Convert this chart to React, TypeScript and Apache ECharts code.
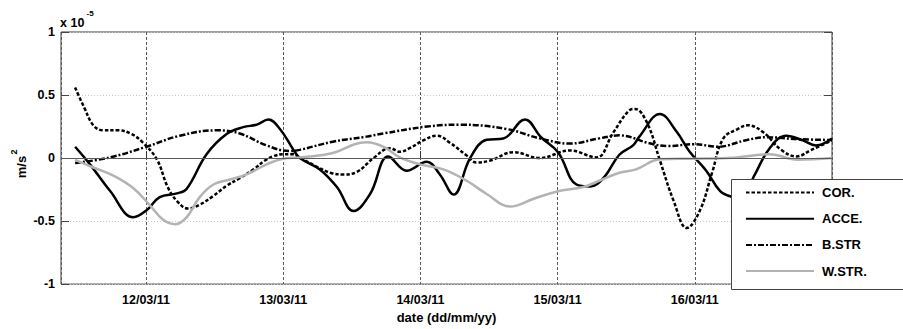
import React, { useEffect, useRef } from "react";
import * as echarts from "echarts";

// time origin: 12/03/2011 00:00 (UTC); points are [hours from origin, value in 1e-5 m/s^2]
const ORIGIN = Date.UTC(2011, 2, 12);
const X_MIN = Date.UTC(2011, 2, 11, 9, 8);
const X_MAX = Date.UTC(2011, 2, 17, 0, 0);
const DAY = 86400000;

const SERIES_NAMES = ["COR.", "ACCE.", "B.STR", "W.STR."];

const COR: [number, number][] = [
  [-12.4, 0.56], [-10.8, 0.4], [-9.2, 0.26], [-7.5, 0.22], [-4.9, 0.22], [-2.5, 0.19],
  [-0.5, 0.12], [1.9, -0.01], [3.8, -0.23], [5.4, -0.34], [7.3, -0.4], [9.4, -0.37],
  [11.8, -0.3], [14.1, -0.22], [16.4, -0.16], [18.8, -0.09], [20.8, -0.02], [22.3, 0.015],
  [24.0, 0.03], [25.7, 0.03], [26.9, 0.005], [29.9, -0.07], [32.5, -0.12], [34.5, -0.13],
  [36.9, -0.11], [39.8, 0.0], [42.7, 0.078], [44.4, 0.05], [46.2, 0.08], [48.5, 0.14],
  [50.9, 0.177], [53.2, 0.12], [56.1, 0.02], [57.8, -0.035], [60.2, -0.02], [64.3, 0.047],
  [68.9, 0.0], [74.1, 0.06], [78.8, 0.005], [81.7, 0.2], [84.6, 0.38], [85.5, 0.39],
  [87.6, 0.285], [89.9, -0.02], [92.3, -0.34], [94.6, -0.555], [96.9, -0.415], [99.0, -0.12],
  [101.0, 0.156], [103.5, 0.23], [105.3, 0.26], [108.1, 0.2], [111.1, 0.065], [113.8, 0.013],
  [116.4, 0.065], [120.0, 0.14],
];

const ACCE: [number, number][] = [
  [-12.4, 0.09], [-9.8, -0.05], [-6.3, -0.26], [-2.2, -0.47], [0.1, -0.415], [2.4, -0.31],
  [5.4, -0.28], [7.1, -0.245], [10.6, 0.03], [14.1, 0.19], [17.0, 0.245], [19.4, 0.265],
  [21.4, 0.305], [23.4, 0.233], [25.8, 0.065], [26.9, 0.0], [30.4, -0.09], [33.4, -0.23],
  [36.3, -0.42], [39.2, -0.285], [42.4, 0.013], [45.6, -0.1], [49.1, -0.03], [51.4, -0.13],
  [53.8, -0.29], [56.7, 0.0], [59.6, 0.145], [62.5, 0.155], [66.3, 0.306], [69.1, 0.165],
  [72.1, 0.045], [75.3, -0.21], [77.7, -0.225], [80.0, -0.16], [82.8, 0.026], [85.2, 0.1],
  [86.3, 0.17], [89.9, 0.35], [92.8, 0.21], [95.1, 0.05], [98.0, -0.1], [100.4, -0.26],
  [102.6, -0.31], [104.2, -0.32], [106.4, -0.14], [109.1, 0.078], [112.0, 0.177],
  [114.9, 0.14], [117.2, 0.1], [120.0, 0.155],
];

const BSTR: [number, number][] = [
  [-12.4, -0.04], [-6.3, 0.005], [0.1, 0.09], [5.9, 0.177], [12.4, 0.22], [16.4, 0.195],
  [21.1, 0.1], [25.2, 0.055], [26.9, 0.065], [32.7, 0.13], [38.6, 0.17], [41.5, 0.195],
  [49.2, 0.25], [55.0, 0.265], [63.1, 0.23], [68.9, 0.156], [74.1, 0.115], [79.3, 0.156],
  [82.8, 0.18], [88.1, 0.117], [91.2, 0.095], [95.9, 0.11], [100.0, 0.09], [105.1, 0.143],
  [108.6, 0.165], [114.0, 0.15], [120.0, 0.143],
];

const WSTR: [number, number][] = [
  [-12.4, -0.015], [-9.2, -0.075], [-5.7, -0.14], [-2.2, -0.24], [0.7, -0.375], [3.0, -0.49],
  [5.1, -0.525], [7.1, -0.47], [9.4, -0.31], [11.8, -0.21], [14.7, -0.17], [17.6, -0.13],
  [21.1, -0.05], [24.0, -0.005], [26.9, 0.005], [32.7, 0.04], [36.5, 0.11], [38.6, 0.125],
  [41.5, 0.09], [44.4, 0.005], [47.9, -0.05], [52.0, -0.09], [56.1, -0.18], [59.6, -0.285],
  [63.7, -0.385], [67.7, -0.325], [71.9, -0.265], [76.5, -0.23], [79.3, -0.18], [82.8, -0.117],
  [85.7, -0.09], [89.9, -0.01], [95.7, -0.005], [102.7, 0.003], [109.1, 0.03], [114.0, -0.013],
  [120.0, 0.0],
];

const FONT = "'Liberation Sans', Arial, Helvetica, sans-serif";

const toPoints = (d: [number, number][]) => d.map(([h, v]) => [ORIGIN + h * 3600000, v]);
const pad = (n: number) => (n < 10 ? "0" + n : String(n));

export default function App() {
  const ref = useRef<HTMLDivElement>(null);
  useEffect(() => {
    if (!ref.current) return;
    const chart = echarts.init(ref.current, undefined, { renderer: "svg" });
    const lineBase = { type: "line", showSymbol: false, symbol: "none", smooth: 0.4, z: 2 };
    const option: any = {
      animation: false,
      useUTC: true,
      textStyle: { fontFamily: FONT },
      grid: {
        left: 61, right: 71, top: 32, bottom: 40, show: true,
        borderColor: "#3a3a3a", borderWidth: 1, backgroundColor: "transparent",
      },
      xAxis: {
        type: "time", min: X_MIN, max: X_MAX, minInterval: DAY, maxInterval: DAY, splitNumber: 6,
        axisLine: { show: false },
        axisTick: { show: true, inside: true, length: 7, lineStyle: { color: "#333" } },
        axisLabel: {
          color: "#000", fontWeight: "bold", fontSize: 12.5, fontFamily: FONT, margin: 9,
          formatter: (v: number) => {
            const d = new Date(v);
            return pad(d.getUTCDate()) + "/" + pad(d.getUTCMonth() + 1) + "/" + pad(d.getUTCFullYear() % 100);
          },
        },
        splitLine: { show: true, lineStyle: { color: "#5a5a5a", type: [3, 2], width: 1 } },
        name: "date (dd/mm/yy)", nameLocation: "middle", nameGap: 26,
        nameTextStyle: { color: "#000", fontWeight: "bold", fontSize: 13, fontFamily: FONT },
      },
      yAxis: [
        {
          type: "value", min: -1, max: 1, interval: 0.5,
          axisLine: { show: false },
          axisTick: { show: true, inside: true, length: 8, lineStyle: { color: "#444" } },
          axisLabel: {
            color: "#000", fontWeight: "bold", fontSize: 12.5, fontFamily: FONT, margin: 6,
            formatter: (v: number) => String(v),
          },
          splitLine: { show: true, lineStyle: { color: "#c8c8c8", type: [1, 2], width: 1 } },
        },
        {
          type: "value", min: -1, max: 1, interval: 0.5, position: "right",
          axisLine: { show: false },
          axisTick: { show: true, inside: true, length: 8, lineStyle: { color: "#444" } },
          axisLabel: { show: false },
          splitLine: { show: false },
        },
      ],
      legend: {
        orient: "vertical", left: 745, top: 186, padding: 0,
        itemWidth: 68, itemHeight: 14, itemGap: 13.2, z: 5,
        data: SERIES_NAMES,
        itemStyle: { opacity: 0, borderWidth: 0 },
        textStyle: { color: "#000", fontWeight: "bold", fontSize: 13, fontFamily: FONT, padding: [0, 0, 0, 3] },
      },
      graphic: [
        {
          type: "rect", z: 4, silent: true,
          shape: { x: 731.5, y: 179.5, width: 200, height: 110 },
          style: { fill: "#fff", stroke: "#444", lineWidth: 1 },
        },
        {
          type: "text", x: 60, y: 22.5, silent: true,
          style: { text: "x 10", fill: "#000", font: "bold 12.5px " + FONT, textVerticalAlign: "middle", verticalAlign: "middle" },
        },
        {
          type: "text", x: 86.5, y: 13.5, silent: true,
          style: { text: "-5", fill: "#000", font: "bold 8px " + FONT, textVerticalAlign: "middle", verticalAlign: "middle" },
        },
        {
          type: "group", x: 21, y: 167, rotation: Math.PI / 2, silent: true,
          children: [
            {
              type: "text", x: 0, y: 0,
              style: { text: "m/s", fill: "#000", font: "bold 13px " + FONT, textAlign: "center", align: "center", textVerticalAlign: "middle", verticalAlign: "middle" },
            },
            {
              type: "text", x: 12.5, y: -7,
              style: { text: "2", fill: "#000", font: "bold 9px " + FONT, textAlign: "left", align: "left", textVerticalAlign: "middle", verticalAlign: "middle" },
            },
          ],
        },
      ],
      series: [
        {
          ...lineBase, name: SERIES_NAMES[0], data: toPoints(COR),
          lineStyle: { color: "#000", width: 2.5, type: [3.5, 2] },
          itemStyle: { color: "#000" },
          markLine: {
            silent: true, symbol: ["none", "none"], label: { show: false },
            lineStyle: { color: "#5a5a5a", type: "solid", width: 1 },
            data: [{ yAxis: 0 }],
          },
        },
        {
          ...lineBase, name: SERIES_NAMES[1], data: toPoints(ACCE),
          lineStyle: { color: "#000", width: 2.5, type: "solid" },
          itemStyle: { color: "#000" },
        },
        {
          ...lineBase, name: SERIES_NAMES[2], data: toPoints(BSTR),
          lineStyle: { color: "#000", width: 2.5, type: [6, 2, 2, 2] },
          itemStyle: { color: "#000" },
        },
        {
          ...lineBase, name: SERIES_NAMES[3], data: toPoints(WSTR),
          lineStyle: { color: "#b3b3b3", width: 2.5, type: "solid" },
          itemStyle: { color: "#b3b3b3" },
        },
      ],
    };
    chart.setOption(option);
    return () => chart.dispose();
  }, []);
  return (
    <div
      ref={ref}
      style={{ position: "absolute", left: 0, top: 0, width: 903, height: 329, background: "#fff" }}
    />
  );
}
